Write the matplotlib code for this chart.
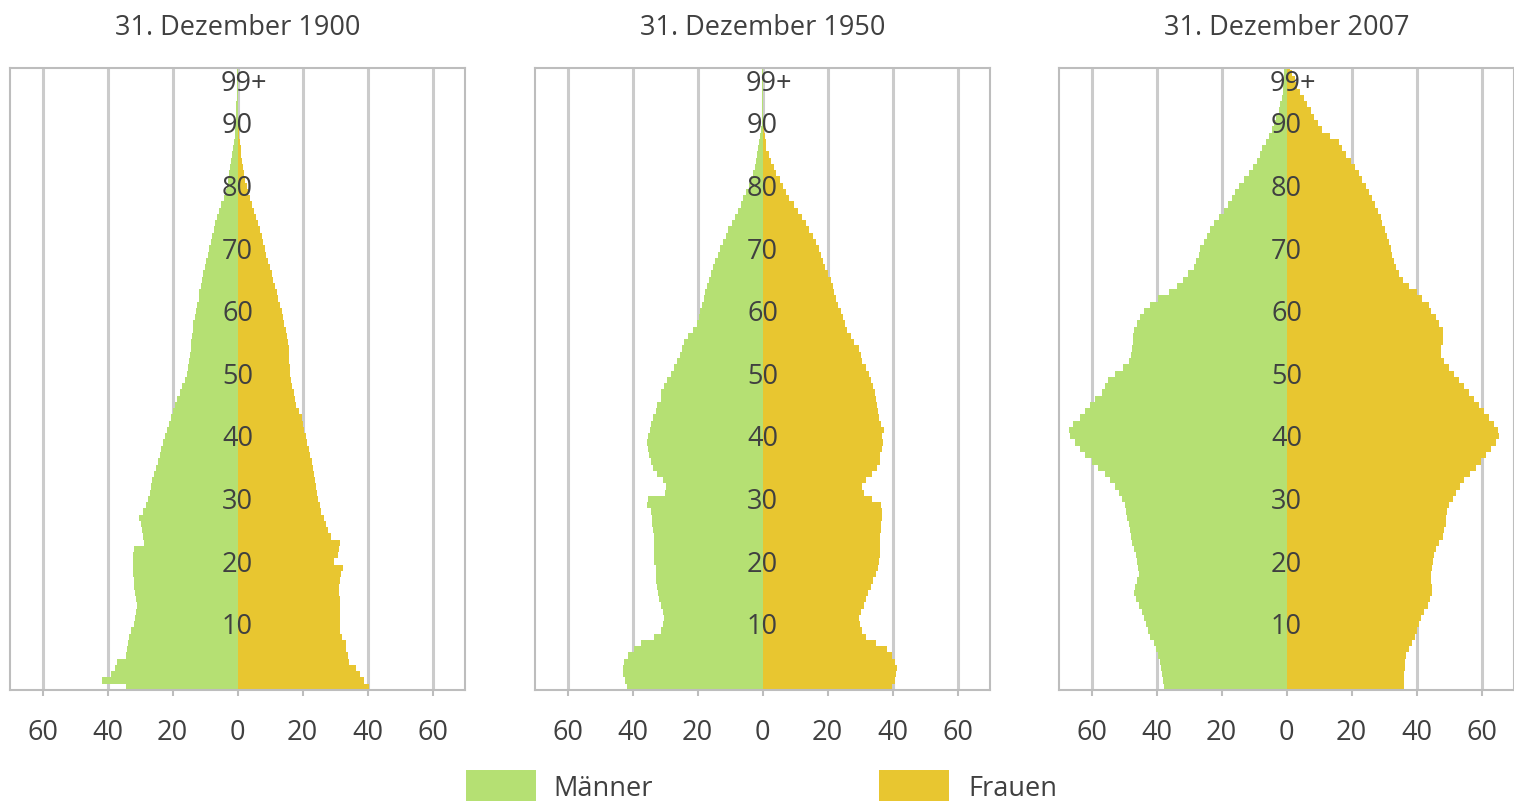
import numpy as np
import matplotlib
matplotlib.use("Agg")
import matplotlib.pyplot as plt
from matplotlib.patches import Rectangle

# population per single year of age (0..98, 99+), thousands
years = ["31. Dezember 1900", "31. Dezember 1950", "31. Dezember 2007"]

men_1900 = [34.3, 41.8, 39.0, 37.7, 37.0, 34.3, 33.9, 33.6, 33.3, 32.9,
            31.7, 31.5, 31.2, 31.0, 31.2, 31.5, 31.8, 32.0, 32.2, 32.2,
            32.3, 32.2, 32.0, 28.8, 29.0, 29.3, 29.8, 30.3, 29.2, 28.2,
            27.4, 27.0, 26.6, 26.3, 25.8, 25.2, 24.6, 24.0, 23.4, 22.8,
            22.3, 21.7, 21.1, 20.5, 20.0, 19.2, 18.5, 17.7, 17.0, 16.2,
            15.5, 15.2, 14.9, 14.7, 14.4, 14.2, 14.0, 13.8, 13.6, 13.2,
            12.8, 12.4, 12.0, 11.7, 11.3, 11.0, 10.5, 10.0, 9.6, 9.2,
            8.7, 8.2, 7.8, 7.3, 6.9, 6.4, 5.8, 5.0, 4.3, 3.6,
            3.1, 2.8, 2.5, 2.3, 2.0, 1.7, 1.3, 1.1, 0.9, 0.8,
            0.7, 0.5, 0.4, 0.4, 0.3, 0.3, 0.3, 0.3, 0.3, 0.3]
women_1900 = [40.6, 39.0, 37.8, 36.5, 34.3, 34.0, 33.5, 33.3, 32.0, 31.4,
              31.6, 31.4, 31.4, 31.4, 31.4, 31.2, 31.2, 31.4, 31.8, 32.4,
              29.6, 31.0, 31.2, 31.4, 28.9, 27.8, 27.1, 26.6, 25.8, 25.3,
              24.8, 24.5, 24.2, 23.9, 23.5, 23.2, 22.8, 22.4, 21.9, 21.5,
              21.0, 20.6, 20.1, 19.7, 18.9, 18.1, 17.7, 17.3, 16.9, 16.5,
              16.1, 16.0, 15.9, 15.8, 15.7, 15.6, 15.2, 14.8, 14.4, 14.1,
              13.8, 13.2, 12.6, 12.0, 11.5, 11.0, 10.5, 9.9, 9.4, 8.9,
              8.4, 7.9, 7.4, 6.8, 6.3, 5.8, 5.1, 4.5, 3.8, 3.3,
              2.8, 2.4, 2.0, 1.7, 1.5, 1.2, 1.0, 0.8, 0.6, 0.4,
              0.3, 0.2, 0.2, 0.1, 0.1, 0.1, 0.1, 0.1, 0.1, 0.1]

men_1950 = [41.7, 42.3, 43.0, 43.0, 42.7, 41.5, 39.5, 37.4, 33.4, 31.3,
            30.5, 30.3, 30.5, 31.3, 31.8, 32.1, 32.4, 32.9, 32.9, 32.9,
            33.4, 33.4, 33.3, 33.3, 33.4, 33.6, 33.9, 34.1, 34.4, 35.4,
            35.2, 30.1, 29.8, 30.5, 32.4, 33.6, 34.2, 34.9, 35.2, 35.4,
            35.3, 34.7, 34.2, 33.6, 32.9, 32.4, 31.3, 31.1, 30.3, 29.3,
            28.3, 27.2, 26.2, 25.5, 24.8, 24.2, 22.8, 21.4, 20.1, 19.6,
            19.1, 18.6, 18.1, 17.6, 17.1, 16.6, 15.9, 15.3, 14.5, 13.8,
            13.0, 12.2, 11.3, 10.5, 9.4, 8.4, 7.6, 6.7, 5.9, 5.0,
            4.1, 3.4, 2.8, 2.4, 2.1, 1.8, 1.4, 1.1, 0.8, 0.5,
            0.3, 0.3, 0.2, 0.2, 0.2, 0.2, 0.2, 0.2, 0.2, 0.2]
women_1950 = [39.9, 40.9, 41.2, 41.4, 40.7, 39.7, 38.4, 34.8, 31.7, 30.7,
              29.9, 29.7, 30.2, 31.2, 31.7, 32.6, 33.3, 34.0, 34.8, 35.6,
              35.8, 36.0, 36.3, 36.3, 36.3, 36.4, 36.6, 36.7, 36.8, 36.6,
              33.8, 31.2, 30.7, 31.7, 33.8, 35.3, 36.0, 36.3, 36.8, 37.0,
              36.8, 37.5, 36.5, 35.9, 35.6, 35.3, 35.0, 34.6, 34.0, 33.4,
              32.8, 31.8, 30.7, 30.2, 29.7, 28.2, 27.1, 26.1, 25.4, 24.7,
              24.1, 23.3, 22.6, 22.0, 21.6, 21.1, 20.2, 19.3, 18.7, 18.1,
              17.5, 16.5, 15.5, 14.4, 13.4, 12.2, 10.9, 9.6, 8.3, 7.3,
              6.3, 5.3, 4.3, 3.5, 2.7, 2.0, 1.2, 1.0, 0.7, 0.4,
              0.2, 0.2, 0.1, 0.1, 0.1, 0.1, 0.1, 0.1, 0.1, 0.1]

men_2007 = [37.8, 38.0, 38.3, 38.5, 38.8, 39.4, 40.2, 40.9, 41.9, 42.7,
            43.3, 44.0, 44.5, 45.3, 46.4, 46.8, 46.6, 46.0, 45.5, 45.7,
            46.0, 46.4, 46.8, 47.4, 47.8, 48.3, 48.6, 49.1, 49.4, 49.8,
            50.5, 51.5, 52.9, 54.3, 55.8, 57.9, 59.9, 62.0, 63.5, 65.1,
            66.6, 66.9, 65.6, 63.5, 62.0, 60.4, 58.9, 56.8, 55.8, 54.8,
            52.7, 50.2, 48.6, 47.8, 47.6, 47.1, 47.1, 46.8, 46.0, 45.0,
            44.0, 41.9, 39.4, 36.3, 33.7, 31.7, 30.3, 28.6, 27.9, 27.0,
            26.5, 25.5, 24.5, 23.4, 22.4, 20.9, 19.3, 18.0, 16.8, 15.8,
            14.7, 13.2, 11.6, 10.3, 9.0, 8.2, 7.5, 6.4, 5.4, 4.6,
            3.9, 3.1, 2.4, 1.9, 1.5, 1.2, 1.0, 0.9, 0.8, 0.8]
women_2007 = [36.2, 36.3, 36.3, 36.4, 36.5, 36.7, 37.7, 38.7, 39.6, 40.3,
              40.8, 41.3, 42.3, 43.4, 44.2, 44.7, 44.7, 44.4, 44.4, 44.9,
              45.1, 45.4, 45.9, 47.0, 48.0, 48.5, 49.0, 49.2, 49.5, 50.1,
              51.1, 52.1, 53.3, 54.7, 56.4, 58.3, 59.8, 61.4, 62.9, 64.4,
              65.3, 65.0, 63.9, 62.4, 60.8, 59.3, 57.8, 56.2, 54.7, 53.1,
              51.6, 50.1, 48.5, 47.5, 47.5, 48.0, 48.2, 48.0, 47.0, 45.9,
              44.4, 43.7, 41.8, 40.3, 37.7, 35.9, 34.6, 33.6, 33.1, 32.6,
              32.1, 31.5, 31.0, 30.2, 29.5, 29.0, 28.3, 27.3, 26.4, 25.4,
              24.4, 23.3, 22.3, 21.0, 19.7, 18.4, 17.2, 16.0, 13.5, 11.0,
              9.8, 8.4, 7.4, 6.4, 5.3, 4.3, 3.3, 2.5, 1.7, 1.2]

men = [men_1900, men_1950, men_2007]
women = [women_1900, women_1950, women_2007]

age_ticks = [10, 20, 30, 40, 50, 60, 70, 80, 90]
x_ticks = [-60, -40, -20, 0, 20, 40, 60]
x_labels = ["60", "40", "20", "0", "20", "40", "60"]

green = "#b5e073"
yellow = "#e8c630"
grid_col = "#cbcbcb"
frame_col = "#bdbdbd"
text_col = "#404040"
fs = 19.5

plt.rcParams["font.family"] = ["Open Sans", "DejaVu Sans"]

fig = plt.figure(figsize=(15.14, 8.01), dpi=100)
lefts = [10, 535, 1059]
W, H = 1514, 801
edges = np.arange(101)

for i in range(3):
    ax = fig.add_axes([lefts[i] / W, (801 - 690) / H, 455 / W, 622 / H])
    m = -np.array(men[i])
    w = np.array(women[i])
    ax.stairs(m, edges, orientation="horizontal", baseline=0, fill=True,
              color=green, lw=0, zorder=2)
    ax.stairs(w, edges, orientation="horizontal", baseline=0, fill=True,
              color=yellow, lw=0, zorder=2)
    ax.set_xlim(-70, 70)
    ax.set_ylim(0, 99.3)
    ax.set_xticks(x_ticks)
    ax.set_xticklabels(x_labels)
    ax.set_yticks([])
    ax.grid(axis="x", color=grid_col, lw=2.2, zorder=0)
    ax.set_axisbelow(True)
    ax.tick_params(axis="x", length=4, width=1.5, color=frame_col,
                   labelsize=fs, labelcolor=text_col, pad=17)
    for s in ax.spines.values():
        s.set_color(frame_col)
        s.set_linewidth(1.5)
    for a in age_ticks:
        ax.text(0, a, str(a), ha="center", va="center", fontsize=fs,
                color=text_col, zorder=3)
    ax.text(-5.3, 96.8, "99+", ha="left", va="center", fontsize=fs,
            color=text_col, zorder=3)
    ax.set_title(years[i], fontsize=fs, color=text_col, pad=24)

# legend
fig.add_artist(Rectangle((466 / W, 0), 70 / W, 31 / H, transform=fig.transFigure,
                         color=green, lw=0))
fig.text(553 / W, 12 / H, "Männer", fontsize=fs, color=text_col, va="center")
fig.add_artist(Rectangle((879 / W, 0), 70 / W, 31 / H, transform=fig.transFigure,
                         color=yellow, lw=0))
fig.text(968 / W, 12 / H, "Frauen", fontsize=fs, color=text_col, va="center")

fig.savefig("out.png", dpi=100)
